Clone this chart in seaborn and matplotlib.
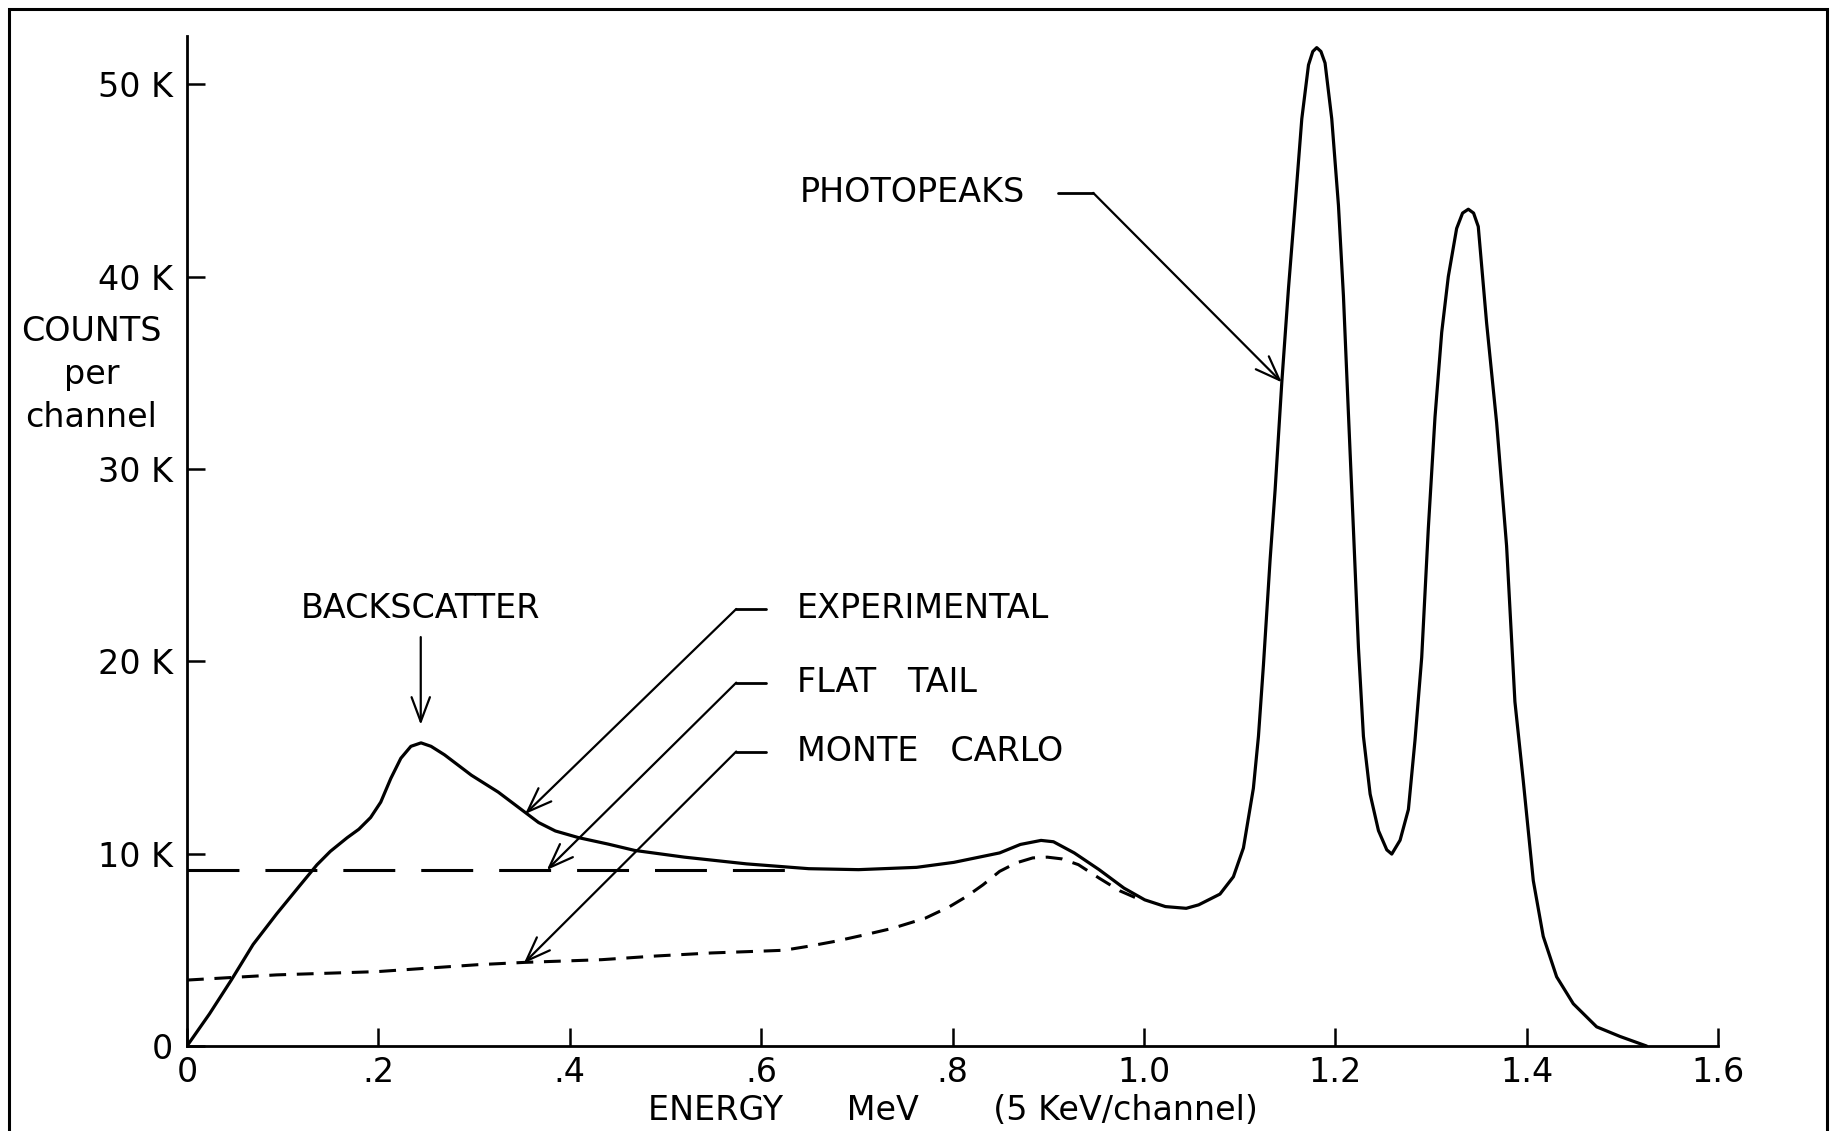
import pandas as pd
import seaborn as sns
import matplotlib.pyplot as plt
from matplotlib.patches import Rectangle

# Experimental spectrum: energy (MeV) vs counts per channel (thousands)
exp_energy = [0.0, 0.0235, 0.0463, 0.0691, 0.0937, 0.1182, 0.1358, 0.1498, 0.1674, 0.1796,
              0.1919, 0.2025, 0.213, 0.2235, 0.234, 0.2446, 0.2551, 0.2691, 0.2972, 0.3253,
              0.3533, 0.3674, 0.385, 0.4095, 0.44, 0.4678, 0.5198, 0.5848, 0.6498, 0.7018,
              0.7625, 0.8015, 0.8492, 0.8709, 0.8925, 0.9055, 0.9272, 0.9532, 0.9792, 1.0009,
              1.0225, 1.0442, 1.0572, 1.0795, 1.0935, 1.104, 1.1144, 1.1197, 1.1249, 1.1319,
              1.1371, 1.1441, 1.1511, 1.158, 1.165, 1.172, 1.1765, 1.1806, 1.185, 1.1893,
              1.1963, 1.2033, 1.2085, 1.2137, 1.219, 1.2242, 1.2294, 1.2364, 1.2451, 1.2538,
              1.259, 1.2677, 1.2764, 1.2833, 1.2903, 1.2972, 1.3042, 1.3112, 1.3181, 1.3268,
              1.333, 1.339, 1.3445, 1.3494, 1.3581, 1.3686, 1.379, 1.3877, 1.3964, 1.4069,
              1.4173, 1.4313, 1.4487, 1.4731, 1.4975, 1.5254]
exp_counts = [0.0, 1.67, 3.43, 5.28, 6.87, 8.36, 9.42, 10.12, 10.83, 11.27,
              11.88, 12.68, 13.91, 14.96, 15.58, 15.76, 15.58, 15.14, 14.08, 13.2,
              12.15, 11.62, 11.18, 10.83, 10.5, 10.17, 9.82, 9.47, 9.22, 9.17,
              9.29, 9.55, 10.04, 10.48, 10.69, 10.62, 10.04, 9.17, 8.21, 7.6,
              7.25, 7.16, 7.34, 7.9, 8.8, 10.3, 13.4, 16.1, 19.8, 25.3,
              28.9, 34.5, 39.4, 43.7, 48.2, 51.0, 51.7, 51.9, 51.7, 51.1,
              48.2, 43.7, 39.0, 32.9, 26.8, 20.7, 16.1, 13.1, 11.2, 10.2,
              9.98, 10.7, 12.3, 15.9, 20.2, 26.9, 32.7, 37.1, 40.0, 42.5,
              43.3, 43.5, 43.3, 42.6, 37.6, 32.4, 26.0, 17.9, 13.8, 8.6,
              5.7, 3.6, 2.2, 1.0, 0.5, 0.0]

# Monte Carlo calculation
mc_energy = [0.0, 0.0937, 0.199, 0.304, 0.353, 0.4332, 0.4895, 0.548, 0.5978, 0.6238,
             0.6498, 0.678, 0.7062, 0.7365, 0.7712, 0.797, 0.8145, 0.8318, 0.8492, 0.8665,
             0.8838, 0.899, 0.9142, 0.9315, 0.9532, 0.9748, 0.9965]
mc_counts = [3.43, 3.70, 3.87, 4.23, 4.35, 4.49, 4.68, 4.84, 4.93, 4.98,
             5.19, 5.45, 5.76, 6.11, 6.64, 7.25, 7.77, 8.38, 9.08, 9.52,
             9.78, 9.82, 9.73, 9.43, 8.73, 8.07, 7.6]

# Flat tail
flat_energy = [0.0, 0.65]
flat_counts = [9.17, 9.17]

x_ticks = [0, 0.2, 0.4, 0.6, 0.8, 1.0, 1.2, 1.4, 1.6]
x_tick_labels = ["0", ".2", ".4", ".6", ".8", "1.0", "1.2", "1.4", "1.6"]
y_ticks = [0, 10, 20, 30, 40, 50]
y_tick_labels = ["0", "10 K", "20 K", "30 K", "40 K", "50 K"]

# callout labels: (text, text height, arrow tip)
callouts = [
    ("EXPERIMENTAL", 22.72, (0.3533, 12.06)),
    ("FLAT   TAIL", 18.89, (0.376, 9.15)),
    ("MONTE   CARLO", 15.31, (0.352, 4.3)),
]

sns.set_style("ticks", rc={"text.color": "black", "axes.labelcolor": "black",
                           "xtick.color": "black", "ytick.color": "black"})
plt.rcParams['font.family'] = ['DejaVu Sans']
FS = 24

fig = plt.figure(figsize=(18.33, 11.31), dpi=100)
ax = fig.add_axes([0.102, 0.0751, 0.8353, 0.893])

df_exp = pd.DataFrame({"energy": exp_energy, "counts": exp_counts})
df_mc = pd.DataFrame({"energy": mc_energy, "counts": mc_counts})
df_flat = pd.DataFrame({"energy": flat_energy, "counts": flat_counts})

sns.lineplot(data=df_exp, x="energy", y="counts", ax=ax, color="black", lw=2.3,
             estimator=None, sort=False)
sns.lineplot(data=df_mc, x="energy", y="counts", ax=ax, color="black", lw=2.2,
             estimator=None, sort=False, linestyle=(0, (5.5, 3.5)))
sns.lineplot(data=df_flat, x="energy", y="counts", ax=ax, color="black", lw=2.2,
             estimator=None, sort=False, linestyle=(0, (17, 8.5)))

ax.set_xlim(0, 1.6)
ax.set_ylim(0, 52.5)
sns.despine(ax=ax)
for s in ("left", "bottom"):
    ax.spines[s].set_linewidth(2.0)
    ax.spines[s].set_color("black")

ax.set_xticks(x_ticks)
ax.set_xticklabels(x_tick_labels)
ax.set_yticks(y_ticks)
ax.set_yticklabels(y_tick_labels)
ax.tick_params(axis="both", direction="in", length=13, width=1.8, labelsize=FS)
ax.tick_params(axis="y", pad=10)
ax.tick_params(axis="x", pad=7)

ax.set_xlabel("ENERGY      MeV       (5 KeV/channel)", fontsize=FS, labelpad=4)
ax.set_ylabel("")
ax.text(-0.1, 34.9, "COUNTS\nper\nchannel", ha="center", va="center", fontsize=FS,
        linespacing=1.38, clip_on=False)

arrow_kw = dict(arrowstyle="->,head_length=0.8,head_width=0.3", color="black", lw=1.6,
                mutation_scale=22, shrinkA=0, shrinkB=0)

# photopeaks
ax.text(0.640, 44.35, "PHOTOPEAKS", ha="left", va="center", fontsize=FS)
ax.plot([0.91, 0.947], [44.35, 44.35], color="black", lw=2.0)
ax.annotate("", xy=(1.1441, 34.5), xytext=(0.947, 44.35), arrowprops=arrow_kw)

# backscatter
ax.text(0.2437, 22.72, "BACKSCATTER", ha="center", va="center", fontsize=FS)
ax.annotate("", xy=(0.2443, 16.7), xytext=(0.2443, 21.26), arrowprops=arrow_kw)

for label, ty, tip in callouts:
    ax.text(0.6376, ty, label, ha="left", va="center", fontsize=FS)
    ax.plot([0.574, 0.605], [ty, ty], color="black", lw=2.0)
    ax.annotate("", xy=tip, xytext=(0.574, ty), arrowprops=arrow_kw)

# outer frame
fig.patches.append(Rectangle((0.005, -0.01), 0.9915, 1.002, transform=fig.transFigure,
                             fill=False, edgecolor="black", lw=2.2))

fig.savefig("out.png", dpi=100, facecolor="white")
